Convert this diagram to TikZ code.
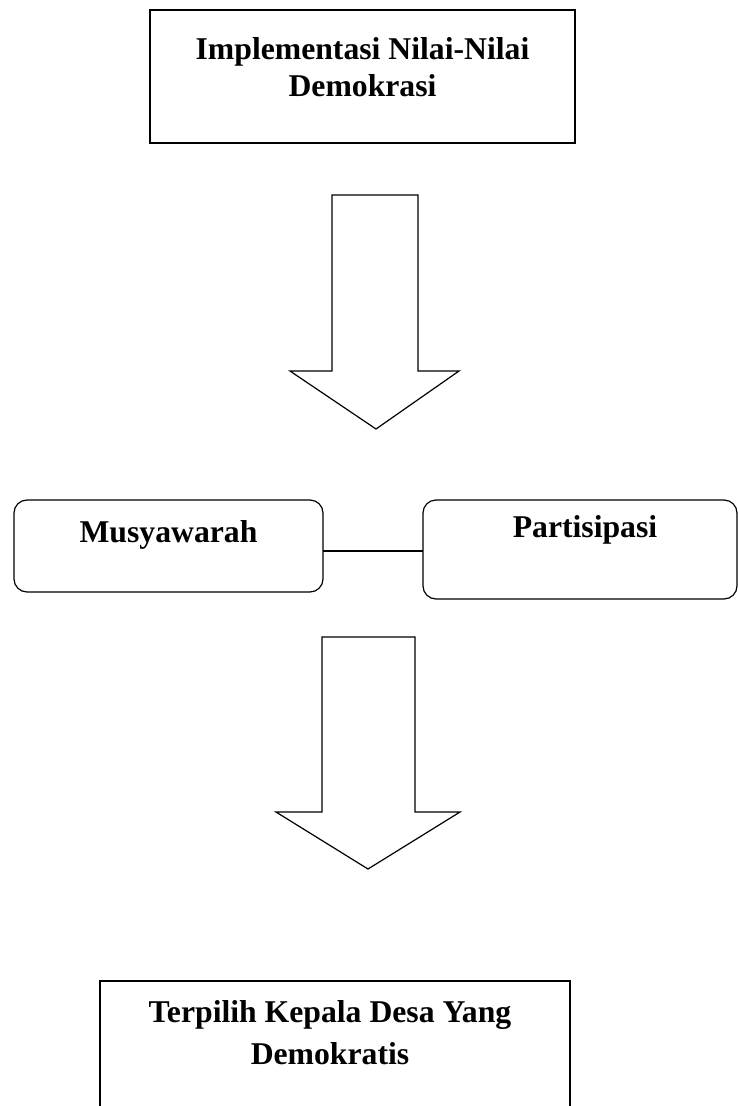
\documentclass[tikz,border=0pt]{standalone}
\usepackage{fontspec}
\setmainfont{Liberation Serif}
\usetikzlibrary{positioning}

\begin{document}
\begin{tikzpicture}[
    x=1pt, y=-1pt,
    frame/.style={rectangle, draw, line width=1.2pt, outer sep=0pt, inner sep=0pt, anchor=north west},
    roundframe/.style={frame, rounded corners=13pt},
    lbl/.style={inner sep=0pt, align=center, font=\fontsize{31.7pt}{37pt}\selectfont\bfseries},
    bigarrow/.style={draw, line width=1.2pt, line join=miter}
]

\useasboundingbox (0,0) rectangle (738,1106);
\clip (0,0) rectangle (738,1106);

% Top box
\node[frame, minimum width=425pt, minimum height=133pt] (impl) at (150,10) {};
\node[lbl, below=27pt of impl.north] (impl-lbl) {Implementasi Nilai-Nilai\\Demokrasi};

% Arrow 1
\coordinate (a1) at (332,195);
\draw[bigarrow] (a1) -- ++(86,0) -- ++(0,176) -- ++(41,0) -- ++(-83,58) -- ++(-86,-58) -- ++(42,0) -- cycle;

% Middle boxes
\node[roundframe, minimum width=309pt, minimum height=92pt] (musy) at (14,500) {};
\node[lbl, below=20.5pt of musy.north] (musy-lbl) {Musyawarah};
\node[roundframe, minimum width=314pt, minimum height=99pt] (part) at (423,500) {};
\node[lbl, below=15pt of part.north, xshift=5pt] (part-lbl) {Partisipasi};

% Link between them
\coordinate (mid) at (0,551);
\draw[line width=1.2pt] (musy.east |- mid) -- (part.west |- mid);

% Arrow 2
\coordinate (a2) at (322,637);
\draw[bigarrow] (a2) -- ++(93,0) -- ++(0,175) -- ++(45,0) -- ++(-92,57) -- ++(-92,-57) -- ++(46,0) -- cycle;

% Bottom box
\node[frame, minimum width=470pt, minimum height=200pt] (kades) at (100,981) {};
\node[lbl, below=19.5pt of kades.north, xshift=-5pt, font=\fontsize{31.7pt}{42pt}\selectfont\bfseries] (kades-lbl) {Terpilih Kepala Desa Yang\\Demokratis};

\end{tikzpicture}
\end{document}
